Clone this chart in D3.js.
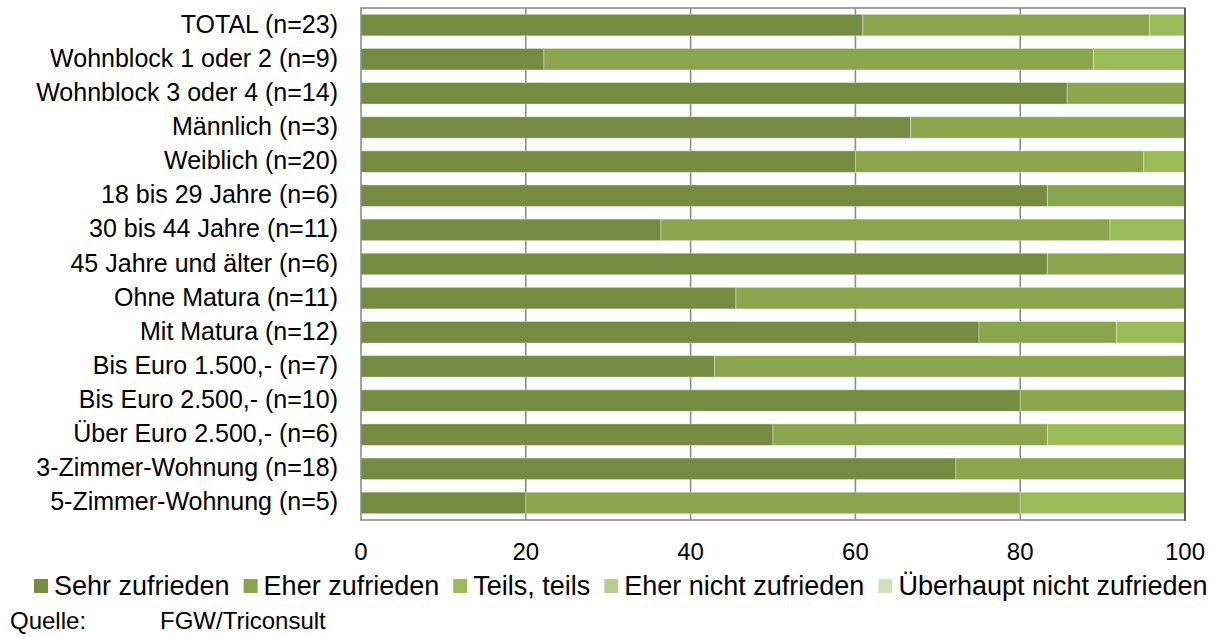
<!DOCTYPE html>
<html>
<head>
<meta charset="utf-8">
<script src="https://cdn.jsdelivr.net/npm/d3@7"></script>
<style>
  html, body { margin: 0; padding: 0; background: #ffffff; }
  svg { display: block; font-family: "Liberation Sans", Arial, sans-serif; }
</style>
</head>
<body>
<svg id="chart" width="1223" height="637"></svg>
<script>
// Zufriedenheit nach Gruppen (Anteile in %)
const categories = [
  "TOTAL (n=23)",
  "Wohnblock 1 oder 2 (n=9)",
  "Wohnblock 3 oder 4 (n=14)",
  "Männlich (n=3)",
  "Weiblich (n=20)",
  "18 bis 29 Jahre (n=6)",
  "30 bis 44 Jahre (n=11)",
  "45 Jahre und älter (n=6)",
  "Ohne Matura (n=11)",
  "Mit Matura (n=12)",
  "Bis Euro 1.500,- (n=7)",
  "Bis Euro 2.500,- (n=10)",
  "Über Euro 2.500,- (n=6)",
  "3-Zimmer-Wohnung (n=18)",
  "5-Zimmer-Wohnung (n=5)"
];
const seriesNames = [
  "Sehr zufrieden",
  "Eher zufrieden",
  "Teils, teils",
  "Eher nicht zufrieden",
  "Überhaupt nicht zufrieden"
];
const sehrZufrieden  = [60.9, 22.2, 85.7, 66.7, 60.0, 83.3, 36.4, 83.3, 45.5, 75.0, 42.9, 80.0, 50.0, 72.2, 20.0];
const eherZufrieden  = [34.8, 66.7, 14.3, 33.3, 35.0, 16.7, 54.5, 16.7, 54.5, 16.7, 57.1, 20.0, 33.3, 27.8, 60.0];
const teilsTeils     = [ 4.3, 11.1,  0.0,  0.0,  5.0,  0.0,  9.1,  0.0,  0.0,  8.3,  0.0,  0.0, 16.7,  0.0, 20.0];
const eherNicht      = [ 0, 0, 0, 0, 0, 0, 0, 0, 0, 0, 0, 0, 0, 0, 0];
const ueberhauptNicht= [ 0, 0, 0, 0, 0, 0, 0, 0, 0, 0, 0, 0, 0, 0, 0];
const xTicks = [0, 20, 40, 60, 80, 100];
const colors = ["#758b41", "#8aa54e", "#9bbb59", "#b7cd92", "#d3e0bf"];

const seriesValues = [sehrZufrieden, eherZufrieden, teilsTeils, eherNicht, ueberhauptNicht];
const rows = categories.map((c, i) => {
  const r = { cat: c };
  seriesNames.forEach((s, k) => { r[s] = seriesValues[k][i]; });
  return r;
});

const svg = d3.select("#chart");
const plot = { left: 361, right: 1185, top: 8, bottom: 520 };

const x = d3.scaleLinear().domain([0, 100]).range([plot.left, plot.right]);
const y = d3.scaleBand().domain(categories).range([plot.top, plot.bottom]).paddingInner(0.37).paddingOuter(0.185);

// Vertical gridlines
svg.append("g")
  .selectAll("line")
  .data(xTicks.filter(t => t > 0 && t < 100))
  .join("line")
  .attr("x1", d => x(d)).attr("x2", d => x(d))
  .attr("y1", plot.top).attr("y2", plot.bottom)
  .attr("stroke", "#8c8c8c").attr("stroke-width", 1.6);

// Stacked bars
const stacked = d3.stack().keys(seriesNames)(rows);
svg.append("g")
  .selectAll("g")
  .data(stacked)
  .join("g")
  .attr("fill", (d, i) => colors[i])
  .selectAll("rect")
  .data(d => d.filter(p => p[1] - p[0] > 0))
  .join("rect")
  .attr("x", d => x(d[0]))
  .attr("y", d => y(d.data.cat))
  .attr("width", d => x(d[1]) - x(d[0]))
  .attr("height", y.bandwidth())
  .attr("stroke", "rgba(255,255,255,0.35)")
  .attr("stroke-width", 1);

// Plot frame
svg.append("rect")
  .attr("x", plot.left).attr("y", plot.top)
  .attr("width", plot.right - plot.left).attr("height", plot.bottom - plot.top)
  .attr("fill", "none").attr("stroke", "#8c8c8c").attr("stroke-width", 1.6);
svg.append("line")
  .attr("x1", plot.right).attr("x2", plot.right)
  .attr("y1", plot.top).attr("y2", plot.bottom + 1)
  .attr("stroke", "#555").attr("stroke-width", 1.8);

// Category labels
svg.append("g")
  .selectAll("text")
  .data(categories)
  .join("text")
  .attr("x", 338)
  .attr("y", d => y(d) + y.bandwidth() / 2 + 7.5)
  .attr("text-anchor", "end")
  .attr("font-size", 25)
  .attr("fill", "#000")
  .text(d => d);

// X axis tick labels
svg.append("g")
  .selectAll("text")
  .data(xTicks)
  .join("text")
  .attr("x", d => x(d))
  .attr("y", 559.5)
  .attr("text-anchor", "middle")
  .attr("font-size", 24)
  .attr("fill", "#000")
  .text(d => d);

// Legend
const legend = svg.append("g").attr("transform", "translate(34,0)");
let lx = 0;
seriesNames.forEach((name, i) => {
  const g = legend.append("g").attr("transform", `translate(${lx},0)`);
  g.append("rect").attr("x", 0).attr("y", 579).attr("width", 14).attr("height", 14).attr("fill", colors[i]);
  const t = g.append("text").attr("x", 20).attr("y", 595).attr("font-size", 27).attr("fill", "#000").text(name);
  lx += 20 + t.node().getComputedTextLength() + 14;
});

// Source
svg.append("text").attr("x", 10).attr("y", 629).attr("font-size", 24).attr("fill", "#000").text("Quelle:");
svg.append("text").attr("x", 160).attr("y", 629).attr("font-size", 24).attr("fill", "#000").text("FGW/Triconsult");
</script>
</body>
</html>
